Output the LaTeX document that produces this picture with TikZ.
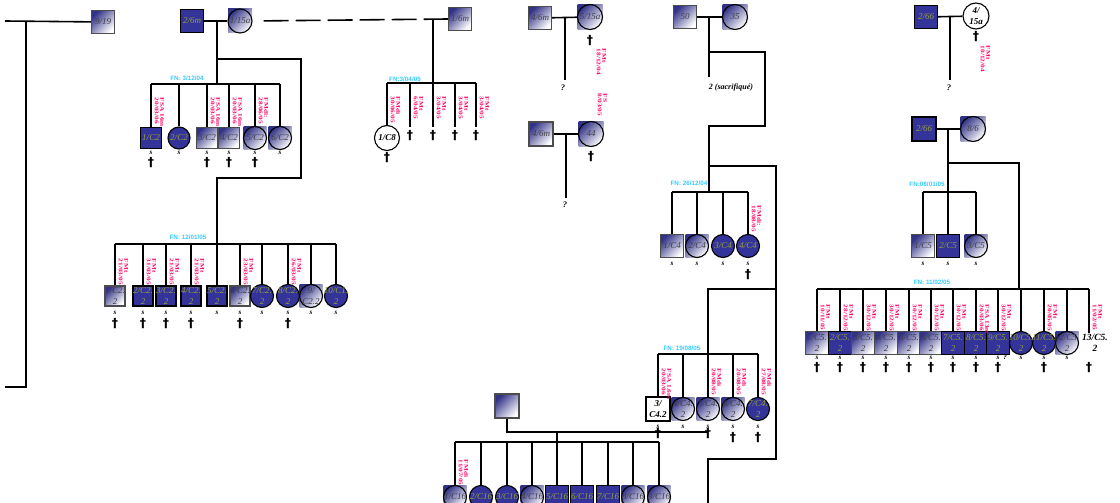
\documentclass[tikz,border=0pt]{standalone}
\usepackage{fontspec}
\setmainfont{Liberation Serif}
\newfontfamily\djv{DejaVu Sans}
\newfontfamily\lsans{Liberation Sans}
\newfontfamily\labf[FakeStretch=1.3]{Liberation Serif}
\definecolor{nblue}{RGB}{51,51,153}
\definecolor{tol}{RGB}{150,160,60}
\definecolor{gtxt}{RGB}{60,60,70}
\definecolor{gtop}{RGB}{50,50,135}
\definecolor{redl}{RGB}{255,0,102}
\definecolor{fnc}{RGB}{51,204,255}
\tikzset{
 shp/.style={inner sep=0pt, line width=1.1pt},
 bsq/.style={shp, rectangle, draw=black, fill=nblue},
 gsq/.style={shp, rectangle, draw=black!70, top color=gtop, bottom color=white, shading angle=45},
 bci/.style={shp, circle, draw=black, fill=nblue},
 gbg/.style={inner sep=0pt, rectangle, top color=gtop, bottom color=white, shading angle=45},
 gci/.style={shp, circle, draw=black},
 wci/.style={shp, circle, draw=black, fill=white},
 wsq/.style={shp, rectangle, draw=black, fill=white},
 tb/.style={inner sep=0pt, align=center, text=tol, font=\fontsize{9}{10.5}\selectfont\itshape},
 tg/.style={tb, text=gtxt},
 tw/.style={tb, text=black, font=\fontsize{9}{10.5}\selectfont\bfseries\itshape},
 lab/.style={inner sep=0pt, align=left, text=redl, rotate=-90, anchor=south west, font=\labf\fontsize{5.6}{5.6}\selectfont\bfseries},
 fn/.style={inner sep=0pt, text=fnc, font=\lsans\fontsize{6.3}{7}\selectfont\bfseries},
 sm/.style={inner sep=0pt, font=\fontsize{7}{7}\selectfont\bfseries\itshape},
 cr/.style={inner sep=0pt, font=\djv\fontsize{12.5}{12.5}\selectfont\bfseries},
 qm/.style={inner sep=0pt, font=\fontsize{8.5}{8.5}\selectfont\bfseries\itshape},
 tx/.style={inner sep=0pt, font=\fontsize{8}{8}\selectfont\bfseries\itshape},
}
\newcommand\BS[4][23]{\node[bsq,minimum size=#1pt] (#2) at (#3) {}; \node[tb] (#2t) at (#2) {#4};}
\newcommand\GS[4][23]{\node[gsq,minimum size=#1pt] (#2) at (#3) {}; \node[tg] (#2t) at (#2) {#4};}
\newcommand\BC[4][23]{\node[bci,minimum size=#1pt] (#2) at (#3) {}; \node[tb] (#2t) at (#2) {#4};}
\newcommand\GC[4][23]{\node[gbg,minimum size=#1pt] (#2b) at (#3) {}; \node[gci,minimum size=#1pt] (#2) at (#3) {}; \node[tg] (#2t) at (#2) {#4};}
\newcommand\WC[4][23]{\node[wci,minimum size=#1pt] (#2) at (#3) {}; \node[tw] (#2t) at (#2) {#4};}
\newcommand\WS[4][23]{\node[wsq,minimum size=#1pt] (#2) at (#3) {}; \node[tw] (#2t) at (#2) {#4};}
\newcommand\LB[3]{\node[lab] (#1) at (#2) {#3};}
\begin{document}
\begin{tikzpicture}[x=1pt,y=-1pt,line width=1.6pt]
\useasboundingbox (0,0) rectangle (1120,503);
\clip (0,0) rectangle (1120,503);
% ---------- top left ----------
\GS{n919}{103,22}{9/19}
\coordinate (l0) at (5,21); \coordinate (l1) at (26,21);
\coordinate (l2) at (26,387); \coordinate (l3) at (5,387);
\draw (l0) -- (n919);
\draw (l1) -- (l2) -- (l3);
\BS{n26m}{192,21}{2/6m}
\GC[24]{n115a}{240,21}{1/15a}
\GS{n16m}{460,19}{1/6m}
\draw (n26m) -- (n115a);
\draw[dash pattern=on 25pt off 7pt, shorten <=11pt] (n115a.east) -- (n16m.west);
% descent from 2/6m x 1/15a
\coordinate (p1) at (217,21); \coordinate (p2) at (217,59);
\coordinate (p3) at (301,59); \coordinate (p4) at (301,178);
\coordinate (p5) at (217,178);
\coordinate (asib) at (217,84); \coordinate (bsib) at (217,244);
\draw (p1) -- (asib);
\draw (p2) -- (p3) -- (p4) -- (p5) -- (bsib);
% group A : FN 3/12/04
\BS[21]{a1}{151,138}{1/C2}
\BC[22]{a2}{179,138}{2/C2}
\GS[21]{a3}{207,138}{3/C2}
\GS[21]{a4}{229,138}{4/C2}
\GC[23]{a5}{255,138}{5/C2}
\GC[23]{a6}{280,138}{6/C2}
\draw (a1|-asib) -- (a6|-asib);
\foreach \n in {a1,a2,a3,a4,a5,a6} {\draw (\n|-asib) -- (\n.north); \node[sm] (\n-s) at (\n|-0,153) {s};}
\foreach \n in {a1,a3,a4,a5} \node[cr] (\n-x) at (\n|-0,163) {†};
\node[fn] (fnA) at (187,78) {FN: 3/12/04};
\LB{la1}{154,97}{FSA 16m\\20/03/06}
\LB{la3}{210,97}{FSA 16m\\20/03/06}
\LB{la4}{232,97}{FSA 16m\\20/03/06}
\LB{la5}{258,97}{FMdi:\\28/06/05}
% group B : FN 12/01/05
\GS[20]{b1}{115,296}{1/C2.\\2}
\BS[20]{b2}{143,296}{2/C2.\\2}
\BS[20]{b3}{166,296}{3/C2.\\2}
\BS[20]{b4}{191,296}{4/C2.\\2}
\BS[20]{b5}{217,296}{5/C2.\\2}
\GS[20]{b6}{240,296}{6/C2.\\2}
\BC[23]{b7}{262,296}{7/C2.\\2}
\BC[23]{b8}{288,296}{8/C2.\\2}
\GC[23]{b9}{311,296}{9/\\C2.2}
\BC[23]{b10}{336,296}{10/C1.\\2}
\draw (b1|-bsib) -- (b10|-bsib);
\foreach \n in {b1,b2,b3,b4,b5,b6,b7,b8,b9,b10} {\draw (\n|-bsib) -- (\n.north); \node[sm] (\n-s) at (\n|-0,313) {s};}
\foreach \n in {b1,b2,b3,b4,b6,b8} \node[cr] (\n-x) at (\n|-0,324) {†};
\node[fn] (fnB) at (188,237) {FN: 12/01/05};
\LB{lb1}{118,258}{FMt\\21/03/05}
\LB{lb2}{146,258}{FMt\\31/03/05}
\LB{lb3}{169,258}{FMt\\21/03/05}
\LB{lb4}{194,258}{FMt\\21/03/05}
\LB{lb6}{243,258}{FMt\\23/03/05}
\LB{lb8}{291,258}{FMt\\26/03/05}
% group C : FN 3/04/05
\coordinate (c0) at (433,20); \coordinate (csib) at (433,83);
\draw (c0) -- (csib);
\WC[25]{c1}{387,138}{1/C8}
\coordinate (c2) at (410,127); \coordinate (c3) at (433,127);
\coordinate (c4) at (455,127); \coordinate (c5) at (476,127);
\draw (c1|-csib) -- (c5|-csib);
\draw (c1|-csib) -- (c1.north);
\foreach \n in {c2,c3,c4,c5} {\draw (\n|-csib) -- (\n); \node[cr] (\n-x) at (\n|-0,136) {†};}
\node[cr] (c1-x) at (387,158) {†};
\node[fn] (fnC) at (405,79) {FN:3/04/05};
\LB{lc1}{390,96}{FMdi\\30/06/05}
\LB{lc2}{413,96}{FMt\\6/04/05}
\LB{lc3}{436,96}{FMt\\3/04/05}
\LB{lc4}{458,96}{FMt\\3/04/05}
\LB{lc5}{479,96}{FMt\\3/04/05}
% 4/6m x 5/15a
\GS{n46ma}{540,18}{4/6m}
\GC[25]{n515a}{590,17}{5/15a}
\draw (n46ma) -- (n515a);
\coordinate (q1t) at (565,17); \coordinate (q1b) at (565,80);
\draw (q1t) -- (q1b);
\node[qm] (q1) at (563,88) {?};
\node[cr] (n515a-x) at (590,41) {†};
\LB{l515a}{596,48}{FMt\\18/12/04}
% 4/6m x 44
\GS[24]{n46mb}{541,134}{4/6m}
\GC[25]{n44}{591,134}{44}
\draw (n46mb) -- (n44);
\coordinate (q2t) at (566,134); \coordinate (q2b) at (566,198);
\draw (q2t) -- (q2b);
\node[qm] (q2) at (565,205) {?};
\node[cr] (n44-x) at (591,157) {†};
\LB{l44}{597,93}{FS\\8/03/05}
% 50 x 35
\GS{n50}{685,17}{50}
\GC[25]{n35}{735,17}{35}
\draw (n50) -- (n35);
\coordinate (s0) at (709,17); \coordinate (s1) at (709,77);
\draw (s0) -- (s1);
\node[tx] (sac) at (731,88) {2 (sacrifiqué)};
\coordinate (s2) at (709,52); \coordinate (s3) at (765,52);
\coordinate (s4) at (765,126); \coordinate (s5) at (709,126);
\coordinate (dsib) at (709,192);
\draw (s2) -- (s3) -- (s4) -- (s5) -- (dsib);
\coordinate (t1) at (709,166); \coordinate (t2) at (776,166);
\coordinate (t3) at (776,459); \coordinate (t4) at (708,459);
\coordinate (t5) at (708,503);
\draw (t1) -- (t2) -- (t3) -- (t4) -- (t5);
\coordinate (u1) at (776,289); \coordinate (u2) at (708,289);
\coordinate (gsib) at (708,354);
\draw (u1) -- (u2) -- (gsib);
% group D : FN 26/12/04
\GS{d1}{672,246}{1/C4}
\GC{d2}{697,246}{2/C4}
\BC{d3}{723,246}{3/C4}
\BC{d4}{748,246}{4/C4}
\draw (d1|-dsib) -- (d4|-dsib);
\foreach \n in {d1,d2,d3,d4} {\draw (\n|-dsib) -- (\n.north); \node[sm] (\n-s) at (\n|-0,264) {s};}
\node[cr] (d4-x) at (748,275) {†};
\node[fn] (fnD) at (689,183) {FN: 26/12/04};
\LB{ld4}{751,205}{FMdi:\\18/08/05}
% group G : FN 19/08/05
\WS[24]{g1}{658,409}{3/\\C4.2}
\GC{g2}{683,409}{4/C4.\\2}
\GC{g3}{708,409}{5/C4.\\2}
\GC{g4}{733,409}{6/C4.\\2}
\BC{g5}{758,409}{7/C4.\\2}
\draw (g1|-gsib) -- (g5|-gsib);
\foreach \n in {g1,g2,g3,g4,g5} {\draw (\n|-gsib) -- (\n.north); \node[sm] (\n-s) at (\n|-0,427) {s};}
\foreach \n in {g4,g5} \node[cr] (\n-x) at (\n|-0,438) {†};
\node[fn] (fnG) at (682,348) {FN: 19/08/05};
\LB{lg1}{661,368}{FSA 1.6m\\20/03/06}
\LB{lg3}{711,368}{FMdi\\20/08/05}
\LB{lg4}{736,368}{FMdi\\20/08/05}
\LB{lg5}{761,368}{FMdi\\27/08/05}
% mating H and group K
\GS[24]{h0}{507,406}{}
\coordinate (hm) at (708,432);
\draw (h0.south) |- (hm);
\foreach \n in {g1,g3} \node[cr] (\n-x) at (\n|-0,434) {†};
\coordinate (hk) at (557,432); \coordinate (ksib) at (557,442);
\draw (hk) -- (ksib);
\GC{k1}{455,497}{1/C16}
\BC{k2}{481,497}{2/C16}
\BC{k3}{507,497}{3/C16}
\GC{k4}{532,497}{4/C16}
\BS{k5}{557,497}{5/C16}
\BS{k6}{582,497}{6/C16}
\BS{k7}{608,497}{7/C16}
\GC{k8}{633,497}{8/C16}
\GC{k9}{659,497}{9/C16}
\draw (k1|-ksib) -- (k9|-ksib);
\foreach \n in {k1,k2,k3,k4,k5,k6,k7,k8,k9} \draw (\n|-ksib) -- (\n.north);
\LB{lk1}{458,459}{FMdi\\11/07/05}
% ---------- right ----------
\BS{n266a}{926,17}{2/66}
\WC[26]{n415a}{976,16}{4/\\15a}
\draw (n266a) -- (n415a);
\coordinate (r0) at (950,16); \coordinate (r1) at (950,80);
\draw (r0) -- (r1);
\node[qm] (q3) at (949,88) {?};
\node[cr] (n415a-x) at (976,37) {†};
\LB{l415a}{980,45}{FMt\\10/12/04}
\BS[24]{n266b}{924,129}{2/66}
\GC[25]{n86}{973,129}{8/6}
\draw (n266b) -- (n86);
\coordinate (v0) at (948,129); \coordinate (esib) at (948,192);
\coordinate (v1) at (948,163); \coordinate (v2) at (1019,163);
\coordinate (fsib) at (1019,289);
\draw (v0) -- (esib);
\draw (v1) -- (v2) -- (fsib);
% group E : FN 08/01/05
\GS{e1}{923,246}{1/C5}
\BS{e2}{948,246}{2/C5}
\GC{e3}{976,246}{3/C5}
\draw (e1|-esib) -- (e3|-esib);
\foreach \n in {e1,e2,e3} {\draw (\n|-esib) -- (\n.north); \node[sm] (\n-s) at (\n|-0,264) {s};}
\node[fn] (fnE) at (927,184) {FN:08/01/05};
% group F : FN 11/02/05
\GS{f1}{817,343}{1/C5.\\2}
\BS{f2}{840,343}{2/C5.\\2}
\GS{f3}{863,343}{3/C5.\\2}
\GS{f4}{886,343}{4/C5.\\2}
\GS{f5}{909,343}{5/C5.\\2}
\GS{f6}{931,343}{6/C5.\\2}
\BS{f7}{953,343}{7/C5.\\2}
\BS{f8}{976,343}{8/C5.\\2}
\BS{f9}{998,343}{9/C5.\\2}
\BC{f10}{1021,343}{10/C5.\\2}
\BC{f11}{1044,343}{11/C5.\\2}
\GC{f12}{1067,343}{12/C5.\\2}
\node[tw, font=\fontsize{9.5}{11.5}\selectfont\bfseries\itshape] (f13) at (1095,343) {13/C5.\\2};
\coordinate (f13c) at (1089,343);
\draw (f1|-fsib) -- (f13c|-fsib);
\foreach \n in {f1,f2,f3,f4,f5,f6,f7,f8,f9,f10,f11,f12} {\draw (\n|-fsib) -- (\n.north); \node[sm] (\n-s) at (\n|-0,358) {s};}
\draw (f13c|-fsib) -- (f13c|-f13.north);
\node[sm] (f9-q) at (1005,357) {?};
\foreach \n in {f1,f2,f3,f4,f5,f6,f7,f8,f9,f11,f13c} \node[cr] (\n-x) at (\n|-0,368) {†};
\node[fn] (fnF) at (932,282) {FN: 11/02/05};
\LB{lf1}{820,304}{FMt\\10/11/05}
\LB{lf2}{843,304}{FMt\\28/12/05}
\LB{lf3}{866,304}{FMt\\30/12/05}
\LB{lf4}{889,304}{FMt\\30/12/05}
\LB{lf5}{912,304}{FMt\\30/12/05}
\LB{lf6}{934,304}{FMt\\30/12/05}
\LB{lf7}{956,304}{FMt\\30/12/05}
\LB{lf8}{979,304}{FSA 13m\\20/03/06}
\LB{lf9}{1001,304}{FMt\\30/12/05}
\LB{lf11}{1047,304}{FMt\\20/05/05}
\LB{lf13}{1092,304}{FMt\\11/02/05}
\end{tikzpicture}
\end{document}
